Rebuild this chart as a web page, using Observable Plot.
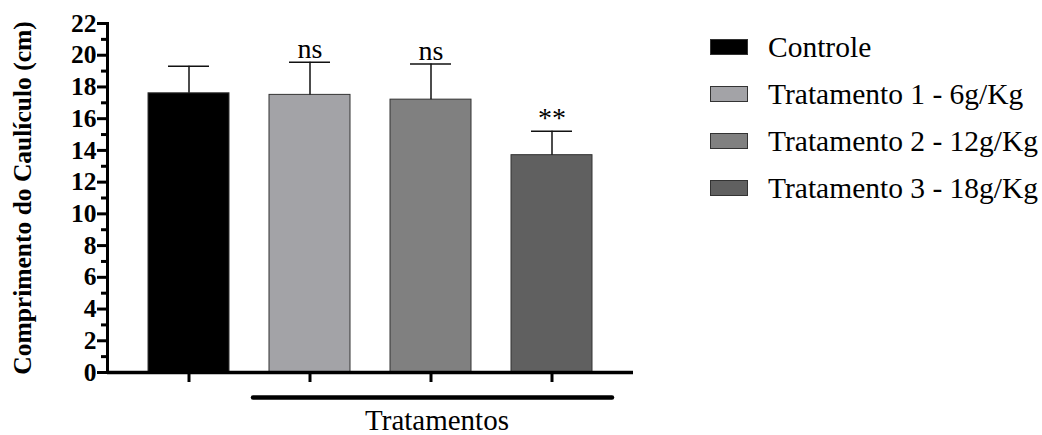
<!DOCTYPE html>
<html>
<head>
<meta charset="utf-8">
<script src="https://cdn.jsdelivr.net/npm/d3@7"></script>
<script src="https://cdn.jsdelivr.net/npm/@observablehq/plot@0.6"></script>
<style>
  html, body { margin: 0; padding: 0; background: #fff; }
  #wrap { position: relative; width: 1042px; height: 435px; overflow: hidden; }
  #chart { position: absolute; left: 0; top: 0; }
  #legend { position: absolute; left: 710px; top: 0; font-family: "Liberation Serif", "DejaVu Serif", serif; font-size: 29.5px; color: #000; }
  .row { position: absolute; left: 0; display: flex; align-items: center; white-space: nowrap; height: 40px; }
  .sw { width: 38px; height: 16px; box-sizing: border-box; border: 1px solid #333; margin-right: 20px; }
</style>
</head>
<body>
<div id="wrap"><div id="chart"></div><div id="legend"></div></div>
<script>
const categories = ["Controle", "Tratamento 1 - 6g/Kg", "Tratamento 2 - 12g/Kg", "Tratamento 3 - 18g/Kg"];
const means = [17.6, 17.5, 17.2, 13.7];
const errors = [1.7, 2.05, 2.25, 1.5];
const significance = ["", "ns", "ns", "**"];
const colors = ["#000000", "#a3a3a7", "#808080", "#606060"];
const majorTicks = [0, 2, 4, 6, 8, 10, 12, 14, 16, 18, 20, 22];
const minorTicks = [1, 3, 5, 7, 9, 11, 13, 15, 17, 19, 21];
const yLabel = "Comprimento do Caulículo (cm)";
const xLabel = "Tratamentos";

const data = categories.map((c, i) => ({cat: c, mean: means[i], top: means[i] + errors[i], sig: significance[i], color: colors[i]}));
const font = "Liberation Serif, DejaVu Serif, serif";

const chart = Plot.plot({
  width: 680,
  height: 435,
  marginLeft: 107,
  marginRight: 47,
  marginTop: 23,
  marginBottom: 63,
  style: {fontFamily: font, background: "transparent", overflow: "visible"},
  x: {domain: categories, padding: 0.33, axis: null},
  y: {domain: [0, 22], axis: null},
  color: {domain: categories, range: colors},
  marks: [
    Plot.barY(data, {x: "cat", y: "mean", fill: "cat", stroke: "#333", strokeWidth: 1}),
    Plot.ruleX(data, {x: "cat", y1: "mean", y2: "top", stroke: "#111", strokeWidth: 1.5}),
    Plot.tickY(data, {x: "cat", y: "top", stroke: "#111", strokeWidth: 1.5, insetLeft: 20, insetRight: 20}),
    Plot.text(data, {x: "cat", y: "top", text: "sig", lineAnchor: "bottom", dy: -4, fontSize: 28, fontFamily: font, fill: "#000", fontWeight: (d) => d.sig === "**" ? "bold" : "normal"}),
    Plot.axisY({ticks: minorTicks, tickSize: 6, tickFormat: () => "", strokeWidth: 3, stroke: "#000"}),
    Plot.axisY({ticks: majorTicks, tickSize: 10, tickPadding: 1, strokeWidth: 3, stroke: "#000", fontSize: 25.5, fontWeight: "bold", fill: "#000", label: null}),
    Plot.axisX({tickSize: 10, tickFormat: () => "", strokeWidth: 3, stroke: "#000", label: null}),
    Plot.frame({anchor: "left", stroke: "#000", strokeWidth: 3}),
    Plot.ruleY([0], {stroke: "#000", strokeWidth: 3.5}),
    Plot.ruleY([0], {x1: () => categories[1], x2: () => categories[3], dy: 25, stroke: "#000", strokeWidth: 4.5, strokeLinecap: "round", insetLeft: -16, insetRight: -20}),
    Plot.text([xLabel], {x: () => categories[2], y: () => 0, text: (d) => d, dx: 6, dy: 57, lineAnchor: "bottom", fontSize: 29, fontFamily: font, fill: "#000"}),
    Plot.text([yLabel], {frameAnchor: "left", textAnchor: "middle", rotate: -90, dx: -85, fontSize: 25.5, fontWeight: "bold", fontFamily: font, fill: "#000"})
  ]
});
document.getElementById("chart").appendChild(chart);

const legend = document.getElementById("legend");
const rowCenters = [47, 94, 141, 188];
categories.forEach((c, i) => {
  const row = document.createElement("div");
  row.className = "row";
  row.style.top = (rowCenters[i] - 20) + "px";
  const sw = document.createElement("div");
  sw.className = "sw";
  sw.style.background = colors[i];
  const t = document.createElement("span");
  t.textContent = c;
  row.appendChild(sw);
  row.appendChild(t);
  legend.appendChild(row);
});
</script>
</body>
</html>
